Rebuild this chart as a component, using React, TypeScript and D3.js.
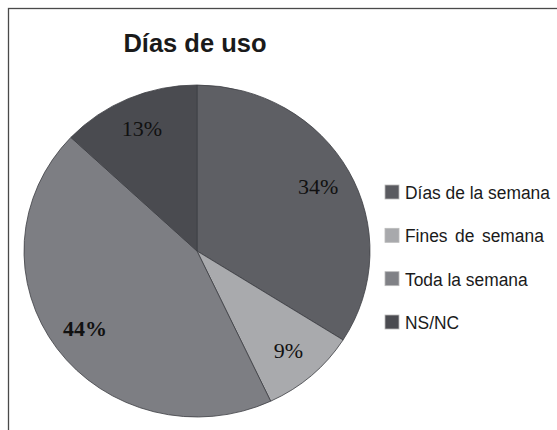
import React from "react";
import * as d3 from "d3";

const categories = ["Días de la semana", "Fines de semana", "Toda la semana", "NS/NC"];
const values = [34, 9, 44, 13];
const colors = ["#5e5f64", "#a9aaad", "#7d7e83", "#4a4b50"];
const legendColors = ["#5a5b60", "#a8a9ac", "#808186", "#4b4c51"];
const title = "Días de uso";

export default function App() {
  const W = 557, H = 430;
  const cx = 197, cy = 251, rx = 173, ry = 166;
  const sx = rx / ry;
  const pie = d3.pie<number>().sort(null).value((d) => d);
  const arcs = pie(values);
  const arc = d3.arc<d3.PieArcDatum<number>>().innerRadius(0).outerRadius(ry);
  const labelArc = d3.arc<d3.PieArcDatum<number>>().innerRadius(ry * 0.8).outerRadius(ry * 0.8);
  const total = d3.sum(values);
  const legendY = d3.scaleLinear().domain([0, 3]).range([192, 322]);

  return (
    <svg width={W} height={H} style={{ position: "absolute", left: 0, top: 0, background: "#fff" }}>
      <rect x={8.5} y={8.5} width={600} height={500} fill="#fff" stroke="#4a4a4a" strokeWidth={1.3} />
      <text x={195} y={52} textAnchor="middle" fontFamily="Liberation Sans, Arial, sans-serif" fontWeight="bold" fontSize={25.5} fill="#1a1a1a">
        {title}
      </text>
      <g transform={`translate(${cx},${cy}) scale(${sx},1)`}>
        {arcs.map((a, i) => (
          <path key={i} d={arc(a) || ""} fill={colors[i]} stroke="#3e3f44" strokeWidth={0.8} vectorEffect="non-scaling-stroke" />
        ))}
      </g>
      {arcs.map((a, i) => {
        const [lx, ly] = labelArc.centroid(a);
        return (
          <text key={i} x={cx + lx * sx} y={cy + ly + 7} textAnchor="middle" fontFamily="Liberation Serif, 'Times New Roman', serif" fontSize={22} fill="#111" fontWeight={i === 2 ? "bold" : "normal"}>
            {Math.round((values[i] / total) * 100)}%
          </text>
        );
      })}
      {categories.map((c, i) => {
        const y = legendY(i);
        return (
          <g key={c}>
            <rect x={385} y={y - 7} width={14} height={14} fill={legendColors[i]} stroke="#bbb" strokeWidth={0.8} />
            <g transform={`translate(405,${y + 7}) scale(0.915,1)`}>
              <text x={0} y={0} fontFamily="Liberation Sans, Arial, sans-serif" fontSize={19} fill="#1a1a1a" wordSpacing={i === 1 ? 3 : 0}>
                {c}
              </text>
            </g>
          </g>
        );
      })}
    </svg>
  );
}
